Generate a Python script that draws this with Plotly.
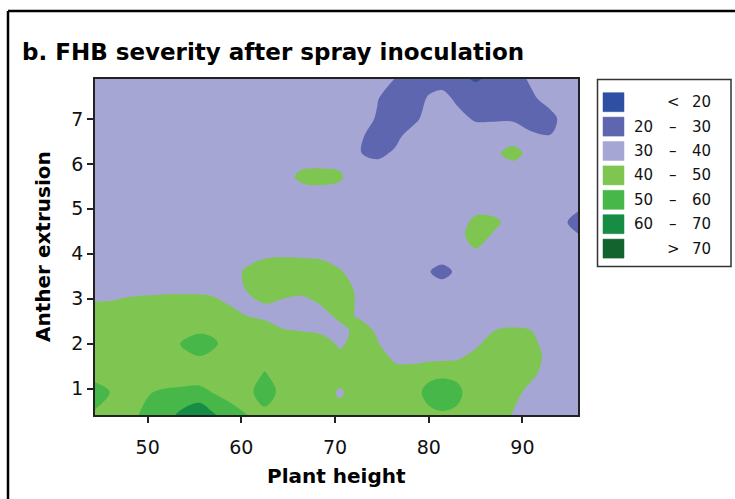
import plotly.graph_objects as go

# ---------------- data ----------------
plant_height = [44.3, 46, 48, 50, 52, 53.5, 55.5, 57, 59, 60.5, 62.5, 64.5, 66.5, 68.5, 70.5,
                72.5, 74.5, 76.5, 78.5, 80, 81.4, 83, 85, 87, 89, 91, 93, 94.5, 96]
anther_extrusion = [0.4, 0.92, 1.3, 1.7, 2.0, 2.3, 2.6, 2.9, 3.2, 3.6, 4.0, 4.4, 4.7, 5.2,
                    5.72, 6.24, 6.6, 7.0, 7.45, 7.9]
# FHB severity (%) on the grid: one row per anther_extrusion value
fhb_severity = [
    [49.1, 47, 47, 53, 57, 62, 66, 61.5, 54, 50.5, 45.5, 45, 45, 45, 44, 45, 45, 45, 45, 48.5, 48.8, 48.5, 45, 44, 39.5, 35, 35, 35, 35],
    [53, 49.9, 47.5, 49.1, 52, 53, 55, 49.3, 46, 45, 57.5, 45, 45, 45, 38.5, 45, 45, 45, 48, 52, 55, 52, 45.3, 45, 44, 36, 35, 35, 35],
    [48, 47, 46, 45, 43, 43, 42, 44, 45, 45, 51, 45, 45, 45, 45, 45, 45, 44, 45, 48.5, 48.7, 48.5, 45, 45, 45, 42, 34, 35, 35],
    [46, 46, 46, 46, 46, 46, 49.5, 47.5, 45, 45, 46, 45, 45, 44, 43, 44, 44, 37.8, 37, 37, 37.5, 38.4, 43, 45, 45, 44, 36.7, 35, 35],
    [46, 46, 46, 46, 46, 50.3, 56, 52, 44, 45, 45, 45, 46, 46, 38, 44.7, 40.5, 35.5, 35, 35, 35, 35, 38, 44.7, 45, 43, 34.4, 35, 35],
    [45, 45, 45, 45, 45, 46, 47.8, 47.5, 45, 45, 44, 40.4, 39.3, 37.4, 37, 43, 39, 35, 35, 35, 35, 35, 36, 39.9, 41, 39.9, 35, 35, 35],
    [44, 44, 44, 45, 45, 45, 45, 45, 44, 40.3, 38.5, 35, 35, 36, 42, 39.5, 36, 35, 35, 35, 35, 35, 35, 35, 36, 35, 35, 35, 35],
    [40.6, 41, 43, 44, 44, 44, 44, 43, 38.5, 36, 40.2, 37, 36, 40.8, 45, 38.7, 35, 35, 35, 35, 35, 35, 35, 35, 35, 35, 35, 35, 35],
    [35.5, 35, 36.5, 37, 38, 38, 38, 37, 35, 40.2, 44, 46, 43.5, 45, 45, 38.2, 35, 35, 35, 35, 36.8, 35, 35, 35, 35, 35, 35, 35, 35],
    [35, 35, 35, 35, 35, 35, 35, 35, 35, 42, 45, 45, 45, 45, 41, 35.3, 35, 35, 35, 30.8, 25, 32.3, 35, 35, 35, 35, 35, 35, 35],
    [35, 35, 35, 35, 35, 35, 35, 35, 35, 34, 38, 38.8, 38.5, 37.6, 35, 35, 35, 35, 35, 35, 37.5, 35, 38.3, 35, 35, 35, 35, 35, 35],
    [35, 35, 35, 35, 35, 35, 35, 35, 35, 35, 35, 35, 35, 35, 35, 35, 35, 35, 35, 35, 35, 36.7, 44, 38.7, 35, 35, 35, 35, 31],
    [35, 35, 35, 35, 35, 35, 35, 35, 35, 35, 35, 35, 35, 35, 35, 35, 35, 35, 35, 35, 35, 34.4, 43, 42, 36.3, 35, 35, 31.5, 24],
    [35, 35, 35, 35, 35, 35, 35, 35, 35, 35, 35, 35, 35, 35, 35, 35, 35, 35, 35, 35, 35, 35, 33, 34, 35, 35, 35, 35, 36],
    [35, 35, 35, 35, 35, 35, 35, 35, 35, 35, 35, 37, 42, 43, 41.5, 33, 37, 35, 35, 35, 35, 35, 35, 35, 33.8, 35, 35, 35, 35],
    [35, 35, 35, 35, 35, 35, 35, 35, 35, 35, 35, 35, 35, 34.3, 35, 30.5, 27.5, 31.5, 35, 35, 35, 35, 35, 38.4, 43, 37, 35, 35, 35],
    [35, 35, 35, 35, 35, 35, 35, 35, 35, 35, 35, 35, 35, 35, 35, 32, 25, 28, 35, 35, 35, 35, 35.7, 35.7, 36.2, 31.3, 30.5, 33, 35],
    [35, 35, 35, 35, 35, 35, 35, 35, 35, 35, 35, 35, 35, 35, 35, 34, 29.2, 25, 28, 34, 35, 33, 29, 29, 28.9, 27, 27, 33.4, 35],
    [35, 35, 35, 35, 35, 35, 35, 35, 35, 35, 35, 35, 35, 35, 35, 35, 30.5, 24.5, 26, 31, 33, 28.5, 25, 25, 26, 28.5, 33.5, 35, 35],
    [35, 35, 35, 35, 35, 35, 35, 35, 35, 35, 35, 35, 35, 35, 35, 35, 34, 29.7, 25, 26, 26, 22, 19, 22, 26, 31.7, 35, 35, 35],
]
levels = [20, 30, 40, 50, 60, 70]
band_colors = ["#2F4FA2", "#5F66B0", "#A6A6D4", "#7FC551", "#47B749", "#178C45", "#13632F"]
x_ticks = [50, 60, 70, 80, 90]
y_ticks = [1, 2, 3, 4, 5, 6, 7]

# ---------------- layout helpers ----------------
W, H = 735, 499
PL, PR, PT, PB = 95, 578, 79, 415


def px_x(px):
    return (px - PL) / (PR - PL)


def px_y(py):
    return (PB - py) / (PB - PT)


n = len(band_colors)
colorscale = [[i / (n - 1), c] for i, c in enumerate(band_colors)]

fig = go.Figure(go.Contour(
    x=plant_height, y=anther_extrusion, z=fhb_severity,
    autocontour=False,
    contours=dict(start=levels[0], end=levels[-1], size=levels[1] - levels[0],
                  coloring="fill", showlines=False),
    colorscale=colorscale, line=dict(width=0), showscale=False, hoverinfo="skip",
))

tick_font = dict(family="DejaVu Sans", size=19, color="#111")
axis_common = dict(showgrid=False, zeroline=False, ticks="outside", ticklen=6, tickwidth=1.5,
                   tickcolor="#222", showline=True, linecolor="#222", linewidth=1.5,
                   mirror=True, tickfont=tick_font)

fig.update_layout(
    width=W, height=H,
    margin=dict(l=PL, r=W - PR, t=PT, b=H - PB),
    paper_bgcolor="white", plot_bgcolor="white",
    xaxis=dict(range=[44.38, 95.93], tickvals=x_ticks, ticklabelstandoff=8, **axis_common),
    yaxis=dict(range=[0.41, 7.89], tickvals=y_ticks, **axis_common),
    showlegend=False,
)

shapes = [
    # outer frame of the panel
    dict(type="line", xref="paper", yref="paper", x0=px_x(8), y0=px_y(11), x1=px_x(760), y1=px_y(11),
         line=dict(color="black", width=2.5)),
    dict(type="line", xref="paper", yref="paper", x0=px_x(8), y0=px_y(11), x1=px_x(8), y1=px_y(520),
         line=dict(color="black", width=2.5)),
    # legend box
    dict(type="rect", xref="paper", yref="paper", x0=px_x(597.5), x1=px_x(731), y0=px_y(79.5), y1=px_y(266.5),
         line=dict(color="#333", width=1.5), fillcolor="white"),
]
annotations = [
    dict(text="<b>b. FHB severity after spray inoculation</b>", xref="paper", yref="paper",
         x=px_x(20), y=px_y(52), xanchor="left", yanchor="middle", showarrow=False,
         font=dict(family="DejaVu Sans", size=23, color="black")),
    dict(text="<b>Plant height</b>", xref="paper", yref="paper",
         x=px_x(336.5), y=px_y(476), xanchor="center", yanchor="middle", showarrow=False,
         font=dict(family="DejaVu Sans", size=20, color="black")),
    dict(text="<b>Anther extrusion</b>", xref="paper", yref="paper", textangle=-90,
         x=px_x(43), y=px_y(247), xanchor="center", yanchor="middle", showarrow=False,
         font=dict(family="DejaVu Sans", size=20, color="black")),
]

leg_font = dict(family="DejaVu Sans", size=15, color="#111")
for i, col in enumerate(band_colors):
    cy = 102.2 + i * 24.4
    shapes.append(dict(type="rect", xref="paper", yref="paper",
                       x0=px_x(603), x1=px_x(624), y0=px_y(cy - 9.5), y1=px_y(cy + 9.5),
                       fillcolor=col, line=dict(color=col, width=0.5)))
    if i == 0:
        left, sym, right = "", "<", str(levels[0])
    elif i == n - 1:
        left, sym, right = "", ">", str(levels[-1])
    else:
        left, sym, right = str(levels[i - 1]), "–", str(levels[i])
    for txt, xp, anc in ((left, 655, "right"), (sym, 673, "center"), (right, 713, "right")):
        if txt:
            annotations.append(dict(text=txt, xref="paper", yref="paper", x=px_x(xp), y=px_y(cy),
                                    xanchor=anc, yanchor="middle", showarrow=False, font=leg_font))

fig.update_layout(shapes=shapes, annotations=annotations)
fig.write_html("out.html", config={"displayModeBar": False},
               post_script="document.body.style.margin='0';document.body.style.overflow='hidden';")
